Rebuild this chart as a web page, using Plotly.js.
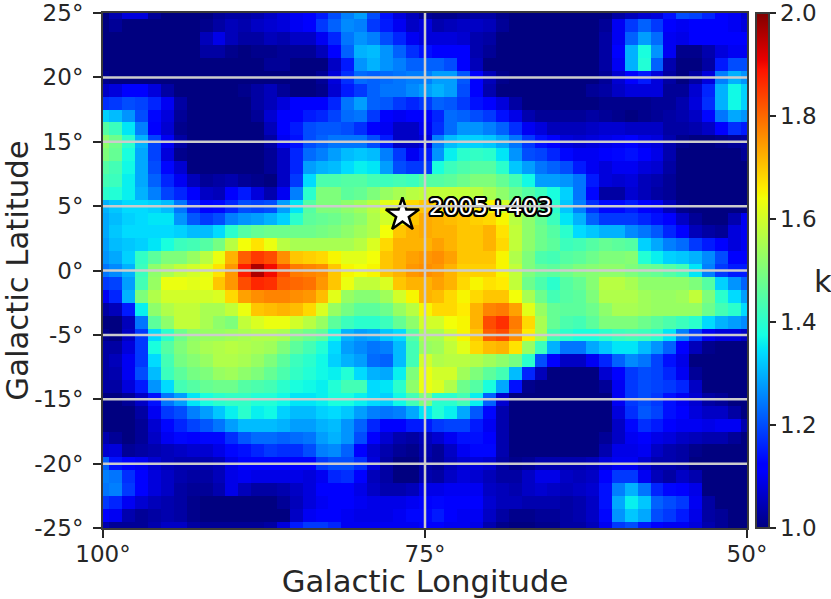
<!DOCTYPE html>
<html><head><meta charset="utf-8">
<script src="https://cdn.plot.ly/plotly-3.0.1.min.js"></script>
<style>html,body{margin:0;padding:0;background:#fff}</style></head>
<body><div id="chart" style="width:831px;height:599px"></div>
<script>
const longitudes = Array.from({length:51},(_, i)=>100-i);
const latitudePositions = Array.from({length:41},(_, i)=>25-i*1.25);
const xTickVals = [100,75,50];
const xTickText = ['100°','75°','50°'];
const yTickVals = [25,18.75,12.5,6.25,0,-6.25,-12.5,-18.75,-25];
const yTickText = ['25°','20°','15°','5°','0°','-5°','-15°','-20°','-25°'];
const sourceName = ['2005+403'];
const sourceX = [76.75];
const sourceY = [5.4];
const labelX = [74.7];
const labelY = [5.95];
// k values x100, top row first, columns from 100 deg to 50 deg
const kRows = [
[100,104,108,108,102,100,100,100,100,102,103,103,104,106,108,110,111,115,120,125,128,120,114,108,105,102,101,101,102,103,103,101,100,100,100,100,100,100,100,100,103,105,107,108,114,120,119,116,112,110,107],
[100,102,100,100,100,100,100,100,101,103,105,104,106,107,108,110,111,118,122,126,125,118,115,110,106,108,104,105,106,106,105,102,100,100,100,100,100,100,100,102,110,118,122,118,111,110,111,111,111,110,108],
[100,100,100,100,100,100,100,100,105,109,105,103,103,105,104,106,106,110,116,124,127,125,120,116,110,108,108,108,107,104,103,100,100,100,100,100,100,100,100,103,110,122,128,123,110,109,111,111,111,111,111],
[100,100,100,100,100,100,100,100,103,103,101,100,101,101,102,102,102,105,111,122,130,131,127,122,117,114,111,111,111,104,102,100,100,100,100,100,100,100,100,103,112,130,138,127,110,101,101,104,108,110,110],
[100,100,100,100,100,100,100,100,100,100,100,100,100,102,102,100,100,100,106,115,127,130,127,125,122,122,122,120,111,105,100,100,100,100,100,100,100,100,100,103,110,130,139,122,104,100,100,103,115,120,120],
[101,100,100,100,100,100,100,100,100,100,100,100,100,100,100,100,100,102,108,117,123,122,123,124,125,125,128,128,121,112,105,101,100,100,100,100,100,100,100,102,107,112,115,108,103,100,103,108,125,130,127],
[106,108,111,111,108,103,100,100,100,100,100,101,103,105,102,100,100,101,107,115,118,122,124,124,126,128,130,128,120,112,104,100,100,100,100,100,100,100,102,103,106,108,108,108,102,102,107,116,130,137,133],
[117,118,120,119,116,110,103,100,100,100,100,100,103,105,108,111,111,112,116,124,128,122,121,118,116,118,122,121,118,114,111,108,103,100,100,100,100,100,100,101,101,101,101,102,102,104,108,117,130,137,133],
[133,131,127,120,113,108,102,100,100,100,100,100,102,107,111,111,115,116,119,123,124,118,112,110,111,112,116,123,122,120,118,114,109,104,102,102,102,102,103,102,101,100,101,102,103,104,106,113,124,129,127],
[145,142,135,125,111,107,101,100,100,100,100,100,100,105,111,115,120,121,121,120,117,112,110,106,106,110,117,123,127,127,125,122,117,110,108,105,105,105,106,107,107,106,106,106,103,103,104,106,112,117,115],
[152,148,140,130,119,110,103,100,100,100,100,100,100,103,110,114,120,122,124,124,124,120,115,106,106,108,125,131,133,133,132,129,124,118,114,111,108,107,108,109,110,112,109,108,104,101,100,100,101,102,103],
[150,147,138,129,119,108,101,100,100,100,100,100,100,102,106,116,123,125,128,131,132,131,125,118,110,115,127,136,140,141,140,135,127,120,119,116,113,110,110,111,113,114,111,109,104,100,100,100,100,100,102],
[145,143,137,129,120,113,107,100,100,100,100,100,100,102,106,116,128,130,131,134,136,135,128,120,118,118,138,142,144,145,145,140,132,128,124,122,120,115,110,108,110,110,108,107,103,100,100,100,100,100,100],
[143,142,136,129,122,116,110,105,102,103,104,102,101,100,106,118,134,144,144,145,145,143,142,143,142,145,145,146,148,150,150,147,143,137,128,128,127,124,115,108,107,108,105,104,102,100,100,100,100,100,100],
[140,139,136,130,125,119,116,111,106,105,112,115,108,104,110,125,140,150,150,146,147,150,153,155,157,158,158,158,158,157,155,152,148,145,142,138,133,124,113,103,103,107,105,103,102,100,100,100,100,100,100],
[130,132,134,134,133,131,124,116,112,113,116,120,119,120,128,135,145,150,150,152,154,157,162,163,168,170,168,168,168,167,165,160,153,148,145,140,132,125,117,113,113,115,112,110,105,101,100,100,100,100,100],
[129,131,133,134,135,135,127,121,118,120,125,127,128,130,133,140,146,147,148,150,152,156,160,163,170,173,172,171,170,169,168,165,157,152,147,142,135,130,122,118,118,118,116,114,111,106,102,100,100,104,110],
[129,132,134,134,134,134,133,131,131,134,140,145,147,148,148,148,148,149,150,152,154,156,164,170,172,173,172,172,170,170,172,167,158,152,148,145,140,134,132,130,130,126,124,121,116,111,105,103,102,108,110],
[128,131,132,133,135,138,142,143,145,149,157,164,167,163,157,155,155,155,155,155,157,161,168,172,172,172,174,172,170,170,172,168,158,152,148,146,142,143,145,147,146,145,133,129,125,123,118,115,111,108,110],
[127,129,133,141,146,150,150,153,157,163,172,181,185,183,176,170,169,168,165,162,162,164,170,172,174,175,176,174,170,170,170,165,156,150,144,143,145,146,148,150,150,151,139,136,133,132,130,126,120,112,111],
[124,126,130,142,152,155,158,160,162,167,175,188,196,190,183,178,177,176,170,165,164,165,170,172,175,176,175,172,169,169,169,165,158,150,147,146,148,150,151,152,152,150,148,147,145,143,135,125,118,115,115],
[118,119,128,143,153,163,163,162,163,170,175,183,187,186,181,180,179,175,170,163,158,158,161,170,172,172,174,172,168,165,167,166,158,148,144,140,145,147,151,157,157,155,152,152,152,152,150,145,133,127,122],
[110,116,130,150,156,160,160,160,160,161,168,174,176,177,177,176,175,171,162,153,151,151,154,160,165,172,171,168,165,168,170,170,164,155,148,143,145,146,150,156,156,156,154,153,153,154,158,150,140,134,128],
[103,105,115,136,152,156,158,158,155,155,158,163,170,171,172,171,168,161,153,149,146,146,148,153,157,165,168,168,166,172,177,178,174,162,153,147,146,146,148,152,155,155,154,153,153,153,153,148,143,140,134],
[100,100,105,124,146,152,158,158,155,152,150,158,161,163,163,160,157,153,146,142,140,140,142,147,152,160,160,164,165,172,183,186,178,168,155,147,144,143,146,150,150,150,148,146,144,142,140,134,130,128,126],
[101,100,106,118,134,140,148,152,153,153,154,155,156,156,155,150,148,146,137,130,128,129,132,134,145,155,155,160,165,170,181,183,176,166,155,143,140,138,138,140,142,143,142,140,135,125,118,110,108,108,106],
[103,103,108,118,138,145,150,153,155,156,157,156,155,154,150,146,143,139,134,128,126,124,125,131,143,153,154,158,162,168,171,172,167,153,142,130,124,124,129,132,135,135,131,127,122,111,105,101,100,100,100],
[103,105,110,118,134,143,149,151,153,156,156,155,153,150,146,142,140,137,133,130,128,123,122,131,143,160,156,157,157,156,154,152,149,140,120,111,106,106,110,116,122,126,124,119,114,109,100,100,100,100,100],
[103,104,110,120,131,142,146,149,150,153,154,152,150,147,144,141,139,137,136,139,134,130,129,136,150,163,160,160,154,150,146,143,131,116,105,100,100,100,100,107,112,118,120,119,116,110,102,100,100,100,100],
[103,103,108,115,127,134,143,145,147,148,148,145,144,143,140,138,137,136,139,143,143,134,135,140,152,163,161,156,148,145,138,129,114,101,100,100,100,100,100,102,110,118,120,119,118,116,106,100,100,100,100],
[100,100,102,106,114,124,128,135,138,140,141,141,139,139,137,135,135,136,138,138,136,134,133,137,143,150,140,140,143,136,122,107,100,100,100,100,100,100,100,100,110,118,120,118,114,110,107,103,102,100,100],
[100,100,100,103,110,118,120,125,128,132,136,140,136,137,133,131,131,133,134,132,128,125,124,125,129,135,139,136,129,121,113,104,100,100,100,100,100,100,100,100,108,117,121,119,114,111,108,106,106,103,100],
[100,100,100,102,107,113,116,119,121,124,128,131,131,131,130,128,128,130,131,127,122,116,112,112,115,115,118,119,119,115,110,104,100,100,100,100,100,100,100,100,106,113,117,115,112,110,110,109,110,110,104],
[104,102,100,102,106,110,113,112,113,113,117,121,123,123,122,123,124,128,130,127,120,112,107,104,103,105,107,110,114,114,111,104,100,100,100,100,100,100,100,102,106,110,111,109,108,106,105,104,104,102,100],
[107,108,102,103,104,105,106,107,107,109,113,114,116,118,117,117,120,125,126,122,112,107,104,102,101,104,102,106,110,113,113,104,100,100,100,100,100,100,100,104,109,109,110,106,104,103,101,100,100,100,100],
[122,114,112,110,107,105,104,104,104,105,109,111,112,112,112,112,112,118,120,120,117,108,103,100,100,103,102,105,107,108,107,103,101,102,104,104,104,104,105,108,110,110,107,104,104,103,100,100,100,100,100],
[125,124,117,111,108,106,104,103,103,105,109,110,109,109,109,109,108,110,116,117,111,105,103,100,100,104,103,106,108,107,105,103,103,106,109,109,106,105,106,112,118,118,110,105,103,106,104,100,100,100,100],
[124,125,118,111,108,106,103,102,102,104,109,105,103,103,104,106,108,111,111,111,109,106,104,104,105,109,109,110,110,110,106,105,104,106,107,106,105,106,107,114,125,130,124,116,113,111,109,100,100,100,100],
[118,116,110,107,105,104,103,101,100,100,100,100,100,100,102,105,108,110,111,111,110,109,109,109,110,111,113,111,111,111,107,105,105,104,104,104,103,104,106,114,129,136,132,122,120,118,110,103,100,100,100],
[112,110,104,102,103,104,103,101,100,100,100,100,100,100,100,106,110,112,112,110,109,109,109,110,113,113,115,111,110,110,106,103,101,101,102,102,103,104,106,113,127,132,129,120,118,115,109,103,102,100,100],
[104,102,102,102,104,106,106,103,102,102,102,102,102,103,108,115,118,118,116,110,110,110,110,110,110,111,111,110,110,109,104,101,100,100,101,101,103,103,105,110,118,120,115,111,110,110,108,104,102,100,100]
];
const kValues = kRows.map(r => r.map(v => v / 100));
const jet = [[0,'rgb(0,0,128)'],[.11,'rgb(0,0,255)'],[.125,'rgb(0,0,255)'],[.34,'rgb(0,219,255)'],[.35,'rgb(0,230,247)'],[.375,'rgb(21,255,226)'],[.64,'rgb(243,255,8)'],[.65,'rgb(247,246,0)'],[.66,'rgb(255,236,0)'],[.89,'rgb(255,19,0)'],[.91,'rgb(232,0,0)'],[1,'rgb(128,0,0)']];
const ink = '#262626', frame = '#3a3a3a', gridc = '#cccccc';
const font = {family:'"DejaVu Sans", sans-serif', size:23, color:ink};
const titleFont = {family:font.family,size:30.7,color:ink};
const gridShapes = [
  ...yTickVals.slice(1,-1).map(v => ({type:'line',layer:'above',xref:'x',yref:'y',x0:100,x1:50,y0:v,y1:v,line:{color:gridc,width:2.5}})),
  ...xTickVals.slice(1,-1).map(v => ({type:'line',layer:'above',xref:'x',yref:'y',x0:v,x1:v,y0:-25,y1:25,line:{color:gridc,width:2.5}}))
];
const shadow = [[-2,0],[2,0],[0,-2],[0,2],[-1.5,-1.5],[1.5,-1.5],[-1.5,1.5],[1.5,1.5],[-1.9,-.9],[1.9,-.9],[-1.9,.9],[1.9,.9],[-.9,-1.9],[.9,-1.9],[-.9,1.9],[.9,1.9]].map(o=>o[0]+'px '+o[1]+'px 0 #000').join(',');
Plotly.newPlot('chart',[
 {type:'heatmap',x:longitudes,y:latitudePositions,z:kValues,zmin:1,zmax:2,colorscale:jet,zsmooth:false,hoverinfo:'skip',
  colorbar:{x:1.0135,xanchor:'left',xref:'paper',y:0,yanchor:'bottom',yref:'paper',len:1,lenmode:'fraction',thickness:13,thicknessmode:'pixels',xpad:0,ypad:0,
   outlinewidth:2,outlinecolor:frame,ticks:'outside',ticklen:6,tickwidth:1.5,tickcolor:ink,tick0:1,dtick:.2,tickformat:'.1f',tickfont:font}},
 {type:'scatter',mode:'markers',x:sourceX,y:sourceY,cliponaxis:false,
  marker:{symbol:'star',size:25,color:'#fff',line:{color:'#000',width:2.5}},showlegend:false,hoverinfo:'skip'},
 {type:'scatter',mode:'text',x:labelX,y:labelY,text:sourceName,textposition:'middle right',cliponaxis:false,
  textfont:{family:font.family,size:23.3,color:'#fff',shadow:shadow},showlegend:false,hoverinfo:'skip'}
],{
 width:831,height:599,paper_bgcolor:'#fff',plot_bgcolor:'#fff',showlegend:false,font:font,
 margin:{l:103,r:84,t:13,b:71,autoexpand:false},
 xaxis:{range:[100,50],tickmode:'array',tickvals:xTickVals,ticktext:xTickText,ticks:'outside',ticklen:8,tickwidth:1.5,tickcolor:ink,showgrid:false,zeroline:false,showline:true,mirror:true,linecolor:frame,linewidth:2,tickfont:font,ticklabelstandoff:-4,
  title:{text:'Galactic Longitude',standoff:2,font:titleFont}},
 yaxis:{range:[-25,25],tickmode:'array',tickvals:yTickVals,ticktext:yTickText,ticks:'outside',ticklen:8,tickwidth:1.5,tickcolor:ink,showgrid:false,zeroline:false,showline:true,mirror:true,linecolor:frame,linewidth:2,tickfont:font,ticklabelstandoff:5,
  title:{text:'Galactic Latitude',standoff:2,font:titleFont}},
 shapes:gridShapes,
 annotations:[{text:'k',xref:'paper',yref:'paper',x:1.1025,y:0.478,xanchor:'left',yanchor:'middle',showarrow:false,font:titleFont,borderpad:0}]
},{displayModeBar:false,responsive:false});
</script></body></html>
